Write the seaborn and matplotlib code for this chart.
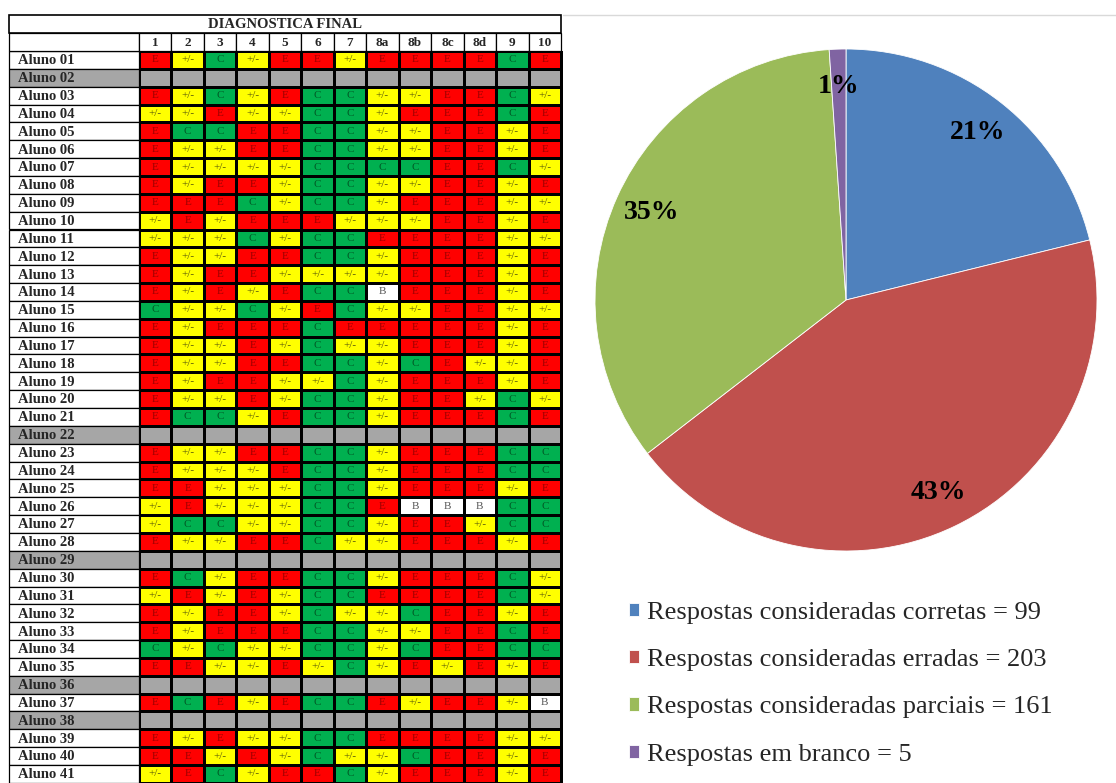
import matplotlib
matplotlib.use('Agg')
import matplotlib.pyplot as plt
from matplotlib.colors import ListedColormap
from matplotlib.patches import Rectangle
from matplotlib.lines import Line2D
import seaborn as sns
import numpy as np

# table data: one string per student, "-" = absent (gray row)
students = ['Aluno %02d' % i for i in range(1, 42)]
questions = ['1', '2', '3', '4', '5', '6', '7', '8a', '8b', '8c', '8d', '9', '10']
answers = [
    'E P C P E E P E E E E C E',   # 01
    '-',                            # 02
    'E P C P E C C P P E E C P',   # 03
    'P P E P P C C P E E E C E',   # 04
    'E C C E E C C P P E E P E',   # 05
    'E P P E E C C P P E E P E',   # 06
    'E P P P P C C C C E E C P',   # 07
    'E P E E P C C P P E E P E',   # 08
    'E E E C P C C P E E E P P',   # 09
    'P E P E E E P P P E E P E',   # 10
    'P P P C P C C E E E E P P',   # 11
    'E P P E E C C P E E E P E',   # 12
    'E P E E P P P P E E E P E',   # 13
    'E P E P E C C B E E E P E',   # 14
    'C P P C P E C P P E E P P',   # 15
    'E P E E E C E E E E E P E',   # 16
    'E P P E P C P P E E E P E',   # 17
    'E P P E E C C P C E P P E',   # 18
    'E P E E P P C P E E E P E',   # 19
    'E P P E P C C P E E P C P',   # 20
    'E C C P E C C P E E E C E',   # 21
    '-',                            # 22
    'E P P E E C C P E E E C C',   # 23
    'E P P P E C C P E E E C C',   # 24
    'E E P P P C C P E E E P E',   # 25
    'P E P P P C C E B B B C C',   # 26
    'P C C P P C C P E E P C C',   # 27
    'E P P E E C P P E E E P E',   # 28
    '-',                            # 29
    'E C P E E C C P E E E C P',   # 30
    'P E P E P C C E E E E C P',   # 31
    'E P E E P C P P C E E P E',   # 32
    'E P E E E C C P P E E C E',   # 33
    'C P C P P C C P C E E C C',   # 34
    'E E P P E P C P E P E P E',   # 35
    '-',                            # 36
    'E C E P E C C E P E E P B',   # 37
    '-',                            # 38
    'E P E P P C C E E E E P P',   # 39
    'E E P E P C P P C E E P E',   # 40
    'P E C P E E C P E E E P E',   # 41
]

# pie data
pie_values = [99, 203, 161, 5]
pie_pct_labels = ['21%', '43%', '35%', '1%']
legend_labels = ['Respostas consideradas corretas = 99',
                 'Respostas consideradas erradas = 203',
                 'Respostas consideradas parciais = 161',
                 'Respostas em branco = 5']
pie_colors = ['#4F81BD', '#C0504D', '#9BBB59', '#8064A2']

sns.set_style('white')
plt.rcParams['font.family'] = ['Liberation Serif', 'DejaVu Serif']

code_of = {'E': 0, 'P': 1, 'C': 2, 'B': 3, '-': 4}
text_of = {'E': 'E', 'P': '+/-', 'C': 'C', 'B': 'B', '-': ''}
text_color = {'E': '#9a0000', '+/-': '#55550a', 'C': '#005a26', 'B': '#555555'}

n_q = len(questions)
cells = [r.split() if r != '-' else ['-'] * n_q for r in answers]
codes = np.array([[code_of[c] for c in row] for row in cells])
annot = np.array([[text_of[c] for c in row] for row in cells])

W, H = 1116, 783
fig = plt.figure(figsize=(W / 100, H / 100), dpi=100)

# grid placement in pixels
gx0, gx1 = 139, 561
gy0 = 51
row_h = 17.85
gy1 = gy0 + row_h * len(students)
ax_t = fig.add_axes([gx0 / W, 1 - gy1 / H, (gx1 - gx0) / W, (gy1 - gy0) / H])

cmap = ListedColormap(['#FF0000', '#FFFF00', '#00B050', '#FFFFFF', '#A6A6A6'])
sns.heatmap(codes, cmap=cmap, vmin=-0.5, vmax=4.5, cbar=False,
            linewidths=0.9, linecolor='black', annot=annot, fmt='',
            annot_kws={'fontsize': 8}, xticklabels=False, yticklabels=False,
            ax=ax_t)
ax_t.collections[0].set_clip_on(False)
for t in ax_t.texts:
    t.set_color(text_color.get(t.get_text(), 'black'))

# label column, header and title drawn as extra cells around the grid
lab_w = (gx0 - 9) / ((gx1 - gx0) / n_q)
for i, (name, r) in enumerate(zip(students, answers)):
    fc = '#A6A6A6' if r == '-' else 'white'
    ax_t.add_patch(Rectangle((-lab_w, i), lab_w, 1, facecolor=fc,
                             edgecolor='black', lw=0.9, clip_on=False))
    ax_t.text(-lab_w + 0.28, i + 0.55, name, ha='left', va='center',
              fontsize=10.5, fontweight='bold', clip_on=False)
ax_t.add_patch(Rectangle((-lab_w, -1), lab_w, 1, facecolor='white',
                         edgecolor='black', lw=0.9, clip_on=False))
for j, q in enumerate(questions):
    ax_t.add_patch(Rectangle((j, -1), 1, 1, facecolor='white',
                             edgecolor='black', lw=0.9, clip_on=False))
    ax_t.text(j + 0.5, -0.45, q, ha='center', va='center', fontsize=9.5,
              fontweight='bold', clip_on=False)
ax_t.add_patch(Rectangle((-lab_w, -2.03), lab_w + n_q, 1.03, facecolor='white',
                         edgecolor='black', lw=1.2, clip_on=False))
ax_t.text((n_q - lab_w) / 2, -1.48, 'DIAGNOSTICA FINAL', ha='center',
          va='center', fontsize=10.5, fontweight='bold', clip_on=False)

# chart area border
fig.add_artist(Line2D([563 / W, 1], [1 - 15 / H, 1 - 15 / H], color='#d9d9d9', lw=1))

# pie
cx, cy, rad = 846, 300, 251
ax_p = fig.add_axes([(cx - rad) / W, 1 - (cy + rad) / H, 2 * rad / W, 2 * rad / H])
lbl_iter = iter(pie_pct_labels)
wedges, _, autotexts = ax_p.pie(pie_values, colors=pie_colors, startangle=90,
                                counterclock=False,
                                autopct=lambda p: next(lbl_iter),
                                pctdistance=0.85,
                                wedgeprops={'edgecolor': 'white', 'linewidth': 0.6},
                                textprops={'fontsize': 20, 'fontweight': 'bold',
                                           'color': 'black'})
ax_p.set_xlim(-1, 1)
ax_p.set_ylim(-1, 1)
ax_p.set_aspect('equal')

ax_p.legend(wedges, legend_labels, loc='upper left',
            bbox_to_anchor=(605 / W, 1 - 578 / H), bbox_transform=fig.transFigure,
            frameon=False, fontsize=19, handlelength=0.4, handleheight=0.4,
            handletextpad=0.3, labelspacing=0.96)

fig.savefig('out.png', dpi=100)
